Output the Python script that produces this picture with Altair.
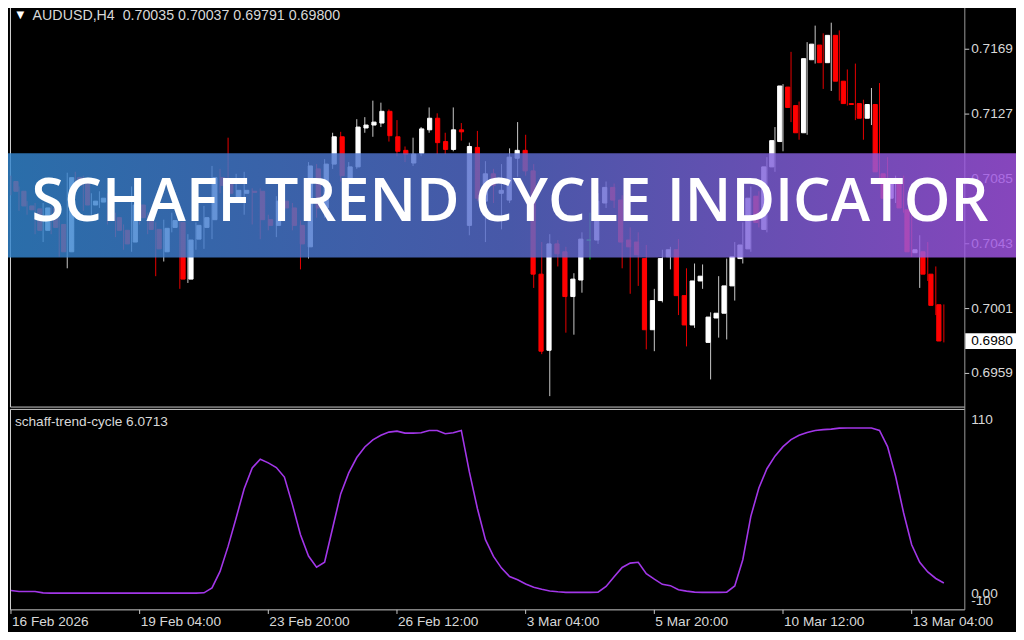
import altair as alt
import numpy as np
import pandas as pd

W, H = 1008, 624
SX, SY = W / 1024.0, H / 640.0

# ---------------- data ----------------
open_ = [0.70833, 0.70770, 0.70675, 0.70656, 0.70517, 0.70662, 0.70555, 0.70378, 0.70858, 0.70820,
         0.70681, 0.70700, 0.70725, 0.70599, 0.70517, 0.70441, 0.70681, 0.70599, 0.70523, 0.70378,
         0.70536, 0.70568, 0.70201, 0.70460, 0.70536, 0.70586, 0.70858, 0.70833, 0.70713, 0.70757,
         0.70770, 0.70770, 0.70586, 0.70549, 0.70706, 0.70662, 0.70549, 0.70410, 0.70915, 0.70662,
         0.70946, 0.71123, 0.70833, 0.70928, 0.71180, 0.71199, 0.71212, 0.71288, 0.71123, 0.71035,
         0.70953, 0.71016, 0.71168, 0.71243, 0.71092, 0.71041, 0.71168, 0.70549, 0.71054, 0.70706,
         0.70883, 0.70757, 0.70713, 0.70984, 0.71035, 0.70902, 0.70233, 0.69740, 0.70429, 0.70378,
         0.70088, 0.70195, 0.70454, 0.70454, 0.70694, 0.70795, 0.70713, 0.70454, 0.70441, 0.70334,
         0.69873, 0.70062, 0.70346, 0.70391, 0.70094, 0.69904, 0.70189, 0.69791, 0.69949, 0.69980,
         0.70157, 0.70334, 0.70397, 0.70738, 0.70523, 0.70928, 0.71092, 0.71445, 0.71325, 0.71149,
         0.71622, 0.71717, 0.71603, 0.71780, 0.71483, 0.71338, 0.71338, 0.71243, 0.71332, 0.70883,
         0.70725, 0.70833, 0.70650, 0.70372, 0.70378, 0.70233, 0.70035]
high = [0.70871, 0.70801, 0.70706, 0.70694, 0.70694, 0.70675, 0.70599, 0.70890, 0.70896, 0.70871,
        0.70757, 0.70770, 0.70757, 0.70631, 0.70555, 0.70801, 0.70706, 0.70631, 0.70568, 0.70586,
        0.70631, 0.70599, 0.70492, 0.70568, 0.70675, 0.70934, 0.70915, 0.71117, 0.70883, 0.70896,
        0.70789, 0.70789, 0.70618, 0.70738, 0.70744, 0.70694, 0.70580, 0.70959, 0.70946, 0.70978,
        0.71149, 0.71155, 0.70959, 0.71237, 0.71250, 0.71357, 0.71344, 0.71300, 0.71231, 0.71060,
        0.71117, 0.71186, 0.71313, 0.71275, 0.71149, 0.71313, 0.71212, 0.71085, 0.71161, 0.70965,
        0.70915, 0.70946, 0.71048, 0.71218, 0.71136, 0.70946, 0.70441, 0.70492, 0.70454, 0.70410,
        0.70239, 0.70504, 0.70631, 0.70757, 0.70833, 0.70820, 0.70744, 0.70536, 0.70504, 0.70422,
        0.70138, 0.70391, 0.70410, 0.70460, 0.70271, 0.70302, 0.70296, 0.69986, 0.70220, 0.70334,
        0.70441, 0.70568, 0.70801, 0.70770, 0.70991, 0.71186, 0.71464, 0.71673, 0.71351, 0.71736,
        0.71843, 0.71793, 0.71862, 0.71812, 0.71559, 0.71597, 0.71363, 0.71439, 0.71471, 0.70991,
        0.70871, 0.70871, 0.70713, 0.70485, 0.70441, 0.70283, 0.70037]
low = [0.70744, 0.70643, 0.70618, 0.70492, 0.70441, 0.70492, 0.70346, 0.70271, 0.70770, 0.70643,
       0.70618, 0.70662, 0.70555, 0.70473, 0.70391, 0.70378, 0.70555, 0.70492, 0.70220, 0.70315,
       0.70504, 0.70138, 0.70176, 0.70391, 0.70397, 0.70460, 0.70757, 0.70725, 0.70694, 0.70618,
       0.70555, 0.70460, 0.70517, 0.70473, 0.70618, 0.70517, 0.70264, 0.70334, 0.70599, 0.70599,
       0.70915, 0.70833, 0.70789, 0.70915, 0.71149, 0.71123, 0.71186, 0.71092, 0.70997, 0.70959,
       0.70934, 0.70997, 0.71149, 0.71010, 0.71010, 0.71029, 0.71098, 0.70485, 0.70706, 0.70441,
       0.70694, 0.70523, 0.70694, 0.70864, 0.70871, 0.70144, 0.69715, 0.69443, 0.70283, 0.69854,
       0.69841, 0.70113, 0.70328, 0.70429, 0.70662, 0.70662, 0.70271, 0.70106, 0.70157, 0.69746,
       0.69734, 0.70050, 0.70264, 0.69968, 0.69765, 0.69885, 0.70138, 0.69551, 0.69822, 0.69810,
       0.70062, 0.70302, 0.70378, 0.70536, 0.70504, 0.70896, 0.71029, 0.71218, 0.71104, 0.71136,
       0.71597, 0.71433, 0.71420, 0.71357, 0.71325, 0.71231, 0.71104, 0.71199, 0.70852, 0.70662,
       0.70694, 0.70631, 0.70346, 0.70144, 0.70189, 0.69968, 0.69791]
close = [0.70770, 0.70675, 0.70650, 0.70517, 0.70662, 0.70536, 0.70378, 0.70858, 0.70808, 0.70681,
         0.70706, 0.70725, 0.70599, 0.70517, 0.70429, 0.70681, 0.70599, 0.70523, 0.70397, 0.70530,
         0.70580, 0.70201, 0.70454, 0.70549, 0.70599, 0.70858, 0.70808, 0.70757, 0.70776, 0.70776,
         0.70763, 0.70586, 0.70549, 0.70706, 0.70662, 0.70549, 0.70429, 0.70934, 0.70662, 0.70946,
         0.71123, 0.70871, 0.70928, 0.71186, 0.71199, 0.71218, 0.71288, 0.71130, 0.71029, 0.71010,
         0.71010, 0.71174, 0.71243, 0.71085, 0.71041, 0.71168, 0.71155, 0.71060, 0.70725, 0.70883,
         0.70808, 0.70776, 0.70991, 0.71035, 0.70902, 0.70233, 0.69734, 0.70429, 0.70365, 0.70088,
         0.70201, 0.70460, 0.70454, 0.70706, 0.70795, 0.70713, 0.70441, 0.70410, 0.70359, 0.69873,
         0.70062, 0.70334, 0.70391, 0.70094, 0.69904, 0.70189, 0.70220, 0.69955, 0.69980, 0.70157,
         0.70346, 0.70422, 0.70725, 0.70568, 0.70928, 0.71098, 0.71452, 0.71313, 0.71149, 0.71629,
         0.71723, 0.71603, 0.71780, 0.71483, 0.71338, 0.71332, 0.71243, 0.71332, 0.70896, 0.70725,
         0.70820, 0.70662, 0.70378, 0.70391, 0.70233, 0.70031, 0.69800]
stc = [1.6, 1.0, 1.0, 1.0, 0.2, 0.0, 0.0, 0.0, 0.0, 0.0,
       0.0, 0.0, 0.0, 0.0, 0.0, 0.0, 0.0, 0.0, 0.0, 0.0,
       0.0, 0.0, 0.0, 0.0, 0.2, 3.2, 13.0, 28.0, 45.0, 62.5,
       75.0, 80.2, 78.0, 75.2, 69.5, 53.0, 35.0, 22.2, 15.6, 18.5,
       39.0, 59.4, 72.0, 81.2, 87.5, 91.8, 94.5, 96.4, 97.0, 95.8,
       95.8, 96.0, 97.4, 97.4, 95.4, 96.0, 97.4, 72.6, 50.7, 32.0,
       22.0, 15.0, 10.0, 8.0, 5.5, 3.6, 2.3, 1.3, 0.8, 0.5,
       0.5, 0.5, 0.5, 0.6, 4.0, 9.8, 15.4, 18.0, 18.5, 11.7,
       8.4, 5.3, 4.5, 2.0, 1.2, 0.6, 0.5, 0.5, 0.5, 0.6,
       4.3, 20.0, 46.0, 63.0, 74.5, 82.0, 87.7, 91.9, 94.5, 96.2,
       97.4, 97.9, 98.2, 98.8, 98.9, 98.9, 98.9, 98.9, 97.4, 87.7,
       70.0, 48.0, 29.0, 18.5, 12.7, 8.8, 6.0713]

price_ticks = [0.7169, 0.7127, 0.7085, 0.7043, 0.7001, 0.6959]
price_tick_labels = ["0.7169", "0.7127", "0.7085", "0.7043", "0.7001", "0.6959"]
stc_ticks = [110, 0, -10]
stc_tick_labels = ["110", "0.00", "-10"]
time_tick_bars = [0, 16, 32, 48, 64, 80, 96, 112]
time_tick_labels = ["16 Feb 2026", "19 Feb 04:00", "23 Feb 20:00", "26 Feb 12:00",
                    "3 Mar 04:00", "5 Mar 20:00", "10 Mar 12:00", "13 Mar 04:00"]
header_text = "AUDUSD,H4\u00a0 0.70035 0.70037 0.69791 0.69800"
indicator_text = "schaff-trend-cycle 6.0713"
banner_text = "SCHAFF TREND CYCLE INDICATOR"
last_price_label = "0.6980"

# ---------------- tables ----------------
n = len(close)
bars = list(range(n))
candles = pd.DataFrame({"bar": bars, "open": open_, "high": high, "low": low, "close": close})
candles["dir"] = np.where(candles["close"] > candles["open"], "up",
                          np.where(candles["close"] < candles["open"], "down", "doji"))
stc_df = pd.DataFrame({"bar": bars, "stc": stc})
price_df = pd.DataFrame({"price": price_ticks, "label": price_tick_labels})
time_df = pd.DataFrame({"bar": time_tick_bars, "label": time_tick_labels})
last_df = pd.DataFrame({"price": [close[-1]], "top": [close[-1] + 0.00050],
                        "bot": [close[-1] - 0.00052], "label": [last_price_label]})
one = pd.DataFrame({"k": [0]})

# ---------------- scales ----------------
x_scale = alt.Scale(domain=[0, n - 1], range=[3.0 * SX, 950.7 * SX], zero=False, nice=False)
price_scale = alt.Scale(domain=[0.6959, 0.7169], range=[374.8 * SY, 42.3 * SY], zero=False, nice=False)
stc_scale = alt.Scale(domain=[-10, 110], range=[617.3 * SY, 411.7 * SY], zero=False, nice=False)
X = alt.X("bar:Q", scale=x_scale, axis=None)

MT_FONT = "Liberation Sans"
FS = 14 * SY
TXT = "#d8d8d8"

# panel frames (layout)
fx = [2.5, 2.5, 2.5, 2.5, 2.5, 972.0]
fx2 = [2.5, 972.0, 972.0, 2.5, 972.0, 972.0]
fy = [0.0, 409.3, 411.7, 411.7, 617.3, 0.0]
fy2 = [409.3, 409.3, 411.7, 617.3, 617.3, 617.3]
fc = ["#d8d8d8", "#c8c8c8", "#c8c8c8", "#d8d8d8", "#c8c8c8", "#9a9a9a"]
frames = pd.DataFrame({"x": [v * SX for v in fx], "x2": [v * SX for v in fx2],
                       "y": [v * SY for v in fy], "y2": [v * SY for v in fy2], "c": fc})
frame_layer = alt.Chart(frames).mark_rule(strokeWidth=1).encode(
    x=alt.X("x:Q", scale=None, axis=None), x2="x2:Q",
    y=alt.Y("y:Q", scale=None, axis=None), y2="y2:Q",
    color=alt.Color("c:N", scale=None, legend=None))

dir_dom = ["up", "down", "doji"]
wicks = alt.Chart(candles).mark_rule(strokeWidth=1).encode(
    x=X,
    y=alt.Y("high:Q", scale=price_scale, axis=None), y2="low:Q",
    color=alt.Color("dir:N", scale=alt.Scale(domain=dir_dom, range=["#c8c8c8", "#e60000", "#00d000"]), legend=None))

bodies = alt.Chart(candles).mark_bar(size=4.2, strokeWidth=1).encode(
    x=X,
    y=alt.Y("open:Q", scale=price_scale, axis=None), y2="close:Q",
    fill=alt.Fill("dir:N", scale=alt.Scale(domain=dir_dom, range=["#ffffff", "#ff0000", "#00e000"]), legend=None),
    stroke=alt.Stroke("dir:N", scale=alt.Scale(domain=dir_dom, range=["#ffffff", "#ff0000", "#00e000"]), legend=None))

stc_line = alt.Chart(stc_df).mark_line(color="#a236e8", strokeWidth=1.6).encode(
    x=X, y=alt.Y("stc:Q", scale=stc_scale, axis=None))

# axes drawn through the scales
time_ticks = alt.Chart(time_df).mark_rule(color="#c8c8c8", strokeWidth=1).encode(
    x=X, y=alt.value(617.3 * SY), y2=alt.value(621.5 * SY))
time_labels = alt.Chart(time_df).mark_text(align="left", baseline="middle", dx=1,
                                           font=MT_FONT, fontSize=FS, color=TXT).encode(
    x=X, y=alt.value(630 * SY), text="label:N")

price_tick_rules = alt.Chart(price_df).mark_rule(color="#c8c8c8", strokeWidth=1).encode(
    x=alt.value(972 * SX), x2=alt.value(976.5 * SX),
    y=alt.Y("price:Q", scale=price_scale, axis=None))
price_labels = alt.Chart(price_df).mark_text(align="left", baseline="middle",
                                             font=MT_FONT, fontSize=FS, color=TXT).encode(
    x=alt.value(978.5 * SX), y=alt.Y("price:Q", scale=price_scale, axis=None), text="label:N")

stc_df_ticks = pd.DataFrame({"v": stc_ticks, "label": stc_tick_labels})
stc_top = alt.Chart(stc_df_ticks[stc_df_ticks["v"] == 110]).mark_text(
    align="left", baseline="top", dy=4, font=MT_FONT, fontSize=FS, color=TXT).encode(
    x=alt.value(978.5 * SX), y=alt.Y("v:Q", scale=stc_scale, axis=None), text="label:N")
stc_zero = alt.Chart(stc_df_ticks[stc_df_ticks["v"] == 0]).mark_text(
    align="left", baseline="middle", dy=1, font=MT_FONT, fontSize=FS, color=TXT).encode(
    x=alt.value(978.5 * SX), y=alt.Y("v:Q", scale=stc_scale, axis=None), text="label:N")
stc_bot = alt.Chart(stc_df_ticks[stc_df_ticks["v"] == -10]).mark_text(
    align="left", baseline="bottom", dy=-2, font=MT_FONT, fontSize=FS, color=TXT).encode(
    x=alt.value(978.5 * SX), y=alt.Y("v:Q", scale=stc_scale, axis=None), text="label:N")

last_box = alt.Chart(last_df).mark_rect(color="#ffffff").encode(
    x=alt.value(972.5 * SX), x2=alt.value(W),
    y=alt.Y("top:Q", scale=price_scale, axis=None), y2="bot:Q")
last_text = alt.Chart(last_df).mark_text(align="left", baseline="middle",
                                         font=MT_FONT, fontSize=FS, color="#000000").encode(
    x=alt.value(978.5 * SX), y=alt.Y("price:Q", scale=price_scale, axis=None), text="label:N")

header_df = pd.DataFrame({"t": [header_text]})
tri = alt.Chart(one).mark_text(text="\u25BC", font="DejaVu Sans", fontSize=10, color="#ffffff",
                               align="center", baseline="middle").encode(
    x=alt.value(12.5 * SX), y=alt.value(7 * SY))
header = alt.Chart(header_df).mark_text(align="left", baseline="middle", font=MT_FONT,
                                        fontSize=14.6 * SY, color=TXT).encode(
    x=alt.value(25 * SX), y=alt.value(8.4), text="t:N")
ind_df = pd.DataFrame({"t": [indicator_text]})
ind_label = alt.Chart(ind_df).mark_text(align="left", baseline="middle", font=MT_FONT,
                                        fontSize=FS, color=TXT).encode(
    x=alt.value(7 * SX), y=alt.value(424.5 * SY), text="t:N")

gradient = {"gradient": "linear", "x1": 0, "y1": 0, "x2": 1, "y2": 0,
            "stops": [{"offset": 0.0, "color": "#3386cf"},
                      {"offset": 0.5, "color": "#586bcd"},
                      {"offset": 1.0, "color": "#a455e6"}]}
banner = alt.Chart(one).mark_rect(color=gradient, opacity=0.82).encode(
    x=alt.value(0), x2=alt.value(W), y=alt.value(149 * SY), y2=alt.value(256 * SY))
banner_df = pd.DataFrame({"t": [banner_text]})
banner_label = alt.Chart(banner_df).mark_text(align="center", baseline="middle", font="Open Sans",
                                              fontWeight=600, fontSize=61 * SY,
                                              color="#ffffff").encode(
    x=alt.value(510 * SX), y=alt.value(200 * SY), text="t:N")

chart = alt.layer(
    frame_layer, wicks, bodies, stc_line,
    time_ticks, time_labels, price_tick_rules, price_labels,
    stc_top, stc_zero, stc_bot, last_box, last_text,
    tri, header, ind_label, banner, banner_label
).resolve_scale(
    x="independent", y="independent", color="independent", fill="independent", stroke="independent"
).properties(
    width=W, height=H, autosize=alt.AutoSizeParams(type="none"), padding=0, background="#000000"
).configure_view(strokeWidth=0)

chart.save("out.html", embed_options={"renderer": "svg", "actions": False})
